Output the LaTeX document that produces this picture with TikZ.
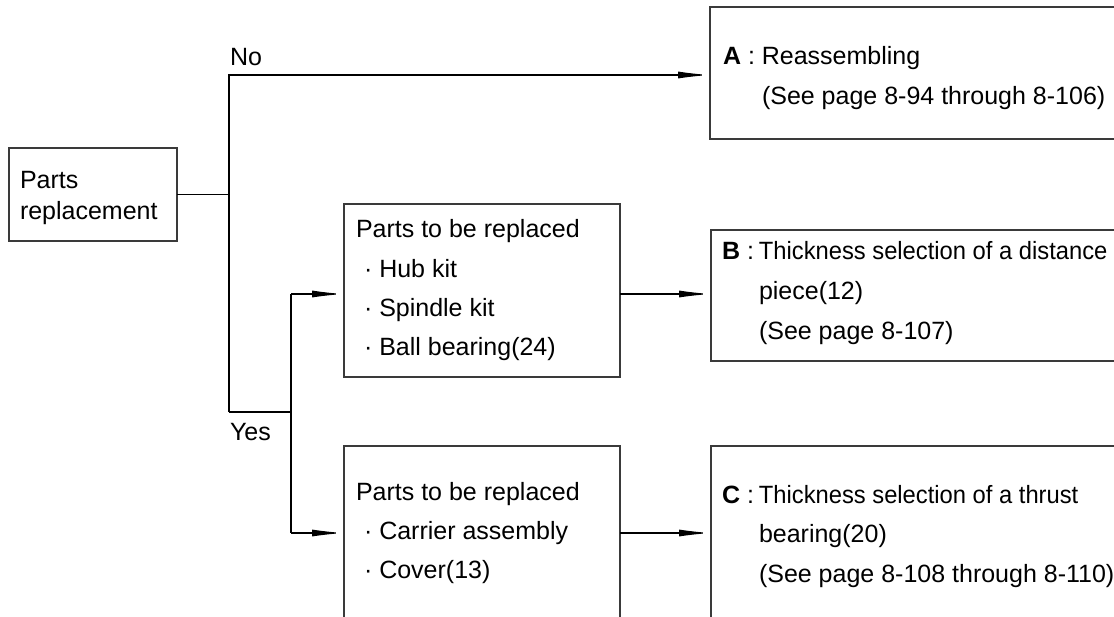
\documentclass[tikz,border=0pt]{standalone}
\usepackage{fontspec}
\setmainfont{Liberation Sans}
\usetikzlibrary{arrows.meta}
\definecolor{boxline}{HTML}{3A3A3A}
\tikzset{
  box/.style={draw=boxline, line width=1.2pt, rectangle, inner sep=0pt, outer sep=0pt, anchor=north west},
  txt/.style={anchor=base west, inner sep=0pt, outer sep=0pt, font=\fontsize{25}{30}\selectfont},
  conn/.style={draw=black, line width=1.2pt},
  arr/.style={conn, -{Latex[length=32pt,width=7pt]}}
}
\newcommand{\narrow}[1]{\scalebox{0.95}[1]{#1}}
\begin{document}
\begin{tikzpicture}[x=1pt,y=-1pt]
\useasboundingbox (0,0) rectangle (1114,616);
\clip (0,0) rectangle (1114,616);
% boxes
\node[box, minimum width=168pt, minimum height=93pt] (pr) at (9,148) {};
\node[box, minimum width=430pt, minimum height=132pt] (A) at (710,7) {};
\node[box, minimum width=276pt, minimum height=173pt] (mid) at (344,204) {};
\node[box, minimum width=276pt, minimum height=200pt] (bot) at (344,446) {};
\node[box, minimum width=430pt, minimum height=131pt] (B) at (711,230) {};
\node[box, minimum width=430pt, minimum height=200pt] (C) at (711,446) {};
% junction coordinates
\coordinate (j) at (229,194.5);
\coordinate (jtop) at (229,75);
\coordinate (jbot) at (229,412);
\coordinate (k) at (291,412);
\coordinate (m) at (291,294);
\coordinate (b) at (291,533);
% connectors
\draw[conn] (pr.east) -- (j);
\draw[arr] (jbot) -- (jtop) -- (jtop -| A.west);
\draw[conn] (jbot) -- (k);
\draw[conn] (m) -- (b);
\draw[arr] (m) -- (m -| mid.west);
\draw[arr] (b) -- (b -| bot.west);
\draw[arr] (mid.east |- m) -- (B.west |- m);
\draw[arr] (bot.east |- b) -- (C.west |- b);
% labels
\node[txt] (no) at (230,65) {No};
\node[txt] (yes) at (230,440) {Yes};
% texts
\node[txt] (pr1) at (20,188) {Parts};
\node[txt] (pr2) at (20,219) {replacement};
\node[txt] (a1) at (723,64) {\textbf{A} : Reassembling};
\node[txt] (a2) at (762,104) {(See page 8-94 through 8-106)};
\node[txt] (m1) at (356,237) {Parts to be replaced};
\node[txt] (m2) at (364,277) {· Hub kit};
\node[txt] (m3) at (364,316) {· Spindle kit};
\node[txt] (m4) at (364,355) {· Ball bearing(24)};
\node[txt] (b1) at (356,500) {Parts to be replaced};
\node[txt] (b2) at (364,539) {· Carrier assembly};
\node[txt] (b3) at (364,578) {· Cover(13)};
\node[txt] (B1) at (722,259) {\textbf{B} :\hspace{-2pt} \narrow{Thickness selection of a distance}};
\node[txt] (B2) at (759,299) {piece(12)};
\node[txt] (B3) at (759,339) {(See page 8-107)};
\node[txt] (C1) at (722,503) {\textbf{C} :\hspace{-2pt} \narrow{Thickness selection of a thrust}};
\node[txt] (C2) at (759,542) {bearing(20)};
\node[txt] (C3) at (759,582) {(See page 8-108 through 8-110)};
\end{tikzpicture}
\end{document}
